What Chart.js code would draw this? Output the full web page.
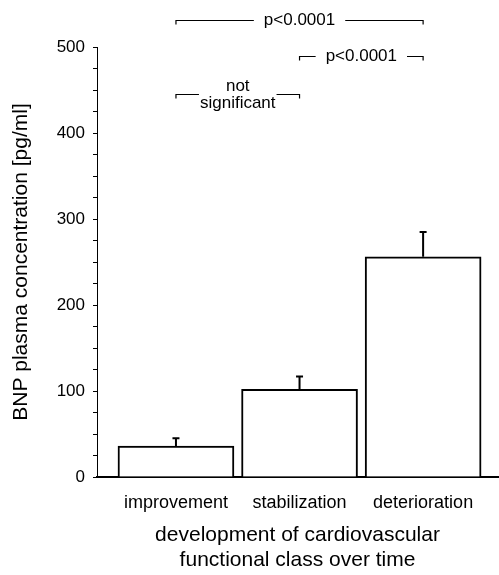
<!DOCTYPE html>
<html><head><meta charset="utf-8">
<script src="https://cdn.jsdelivr.net/npm/chart.js@4.4.1/dist/chart.umd.min.js"></script>
<style>html,body{margin:0;padding:0;background:#fff}#wrap{width:499px;height:575px}</style>
</head><body><div id="wrap"><canvas id="c" width="499" height="575"></canvas></div>
<script>
// ---- data ----
const categories = ['improvement', 'stabilization', 'deterioration'];
const meanValues = [36, 102, 256];
const semValues = [9, 15, 29];
const yTickValues = [0, 100, 200, 300, 400, 500];
const comparisonPairs = [[0, 2], [1, 2], [0, 1]];
const comparisonLabels = [['p<0.0001'], ['p<0.0001'], ['not', 'significant']];
const bracketLevels = [531, 489, 445];

const FONT = '"Liberation Sans", Arial, sans-serif';
Chart.defaults.font.family = FONT;
Chart.defaults.color = '#000';

const errorBarPlugin = {
  id: 'errorBars',
  afterDatasetsDraw(chart) {
    const ctx = chart.ctx, ys = chart.scales.y, meta = chart.getDatasetMeta(0);
    ctx.save();
    ctx.strokeStyle = '#000';
    ctx.lineWidth = 2;
    meta.data.forEach((bar, i) => {
      const x = bar.x;
      const y0 = ys.getPixelForValue(meanValues[i]);
      const y1 = ys.getPixelForValue(meanValues[i] + semValues[i]);
      ctx.beginPath();
      ctx.moveTo(x, y0); ctx.lineTo(x, y1);
      ctx.moveTo(x - 3.5, y1); ctx.lineTo(x + 3.5, y1);
      ctx.stroke();
    });
    ctx.restore();
  }
};

const bracketPlugin = {
  id: 'brackets',
  afterDraw(chart) {
    const xs = chart.scales.x, ys = chart.scales.y, ctx = chart.ctx;
    ctx.save();
    ctx.font = '17px ' + FONT;
    ctx.fillStyle = '#000';
    ctx.strokeStyle = '#000';
    ctx.lineWidth = 1.2;
    comparisonPairs.forEach((p, k) => {
      const x1 = xs.getPixelForValue(p[0] + 1), x2 = xs.getPixelForValue(p[1] + 1);
      const yy = Math.round(ys.getPixelForValue(bracketLevels[k])) + 0.5;
      const lines = comparisonLabels[k];
      const w = Math.max(...lines.map(t => ctx.measureText(t).width));
      const xm = (x1 + x2) / 2;
      const gap = lines.length > 1 ? 1 : 10;
      ctx.beginPath();
      ctx.moveTo(x1, yy + 4); ctx.lineTo(x1, yy); ctx.lineTo(xm - w / 2 - gap, yy);
      ctx.moveTo(xm + w / 2 + gap, yy); ctx.lineTo(x2, yy); ctx.lineTo(x2, yy + 4);
      ctx.stroke();
      ctx.textAlign = 'center';
      ctx.textBaseline = 'middle';
      const lh = 17;
      lines.forEach((t, j) => ctx.fillText(t, xm, yy + (j - (lines.length - 1) / 2) * lh));
    });
    ctx.restore();
  }
};

new Chart(document.getElementById('c'), {
  type: 'bar',
  data: {
    datasets: [{
      data: categories.map((c, i) => ({ x: i + 1, y: meanValues[i] })),
      backgroundColor: '#fff',
      borderColor: '#000',
      borderWidth: 2,
      borderSkipped: 'start',
      barThickness: 116
    }]
  },
  options: {
    responsive: false,
    animation: false,
    layout: { padding: { left: 0, top: 47, right: 1, bottom: 0 } },
    plugins: { legend: { display: false }, tooltip: { enabled: false } },
    scales: {
      x: {
        type: 'linear',
        min: 0.361,
        max: 3.606,
        offset: false,
        grid: { display: false },
        border: { display: true, color: '#000', width: 2 },
        afterBuildTicks: (s) => { s.ticks = categories.map((c, i) => ({ value: i + 1 })); },
        afterFit: (s) => { s.height = 98; },
        ticks: {
          autoSkip: false, maxRotation: 0, padding: 7,
          font: { size: 18 }, color: '#000',
          callback: (v) => categories[Math.round(v) - 1] || ''
        },
        title: {
          display: true,
          text: ['development of cardiovascular', 'functional class over time'],
          font: { size: 21, lineHeight: 1.19 },
          color: '#000',
          padding: { top: 0, bottom: 2 }
        }
      },
      y: {
        type: 'linear',
        min: 0, max: 500,
        afterFit: (s) => { s.width = 97; },
        grid: { display: true, drawOnChartArea: false, drawTicks: true, tickLength: 4, tickColor: '#000', tickWidth: 1 },
        border: { display: true, color: '#000', width: 1 },
        ticks: {
          stepSize: 25, autoSkip: false, padding: 8,
          font: { size: 17 }, color: '#000',
          callback: (v) => yTickValues.includes(v) ? String(v) : ''
        },
        title: {
          display: true,
          text: 'BNP plasma concentration [pg/ml]',
          font: { size: 21 },
          color: '#000',
          padding: { top: 9, bottom: 0 }
        }
      }
    }
  },
  plugins: [errorBarPlugin, bracketPlugin]
});
</script>
</body></html>
